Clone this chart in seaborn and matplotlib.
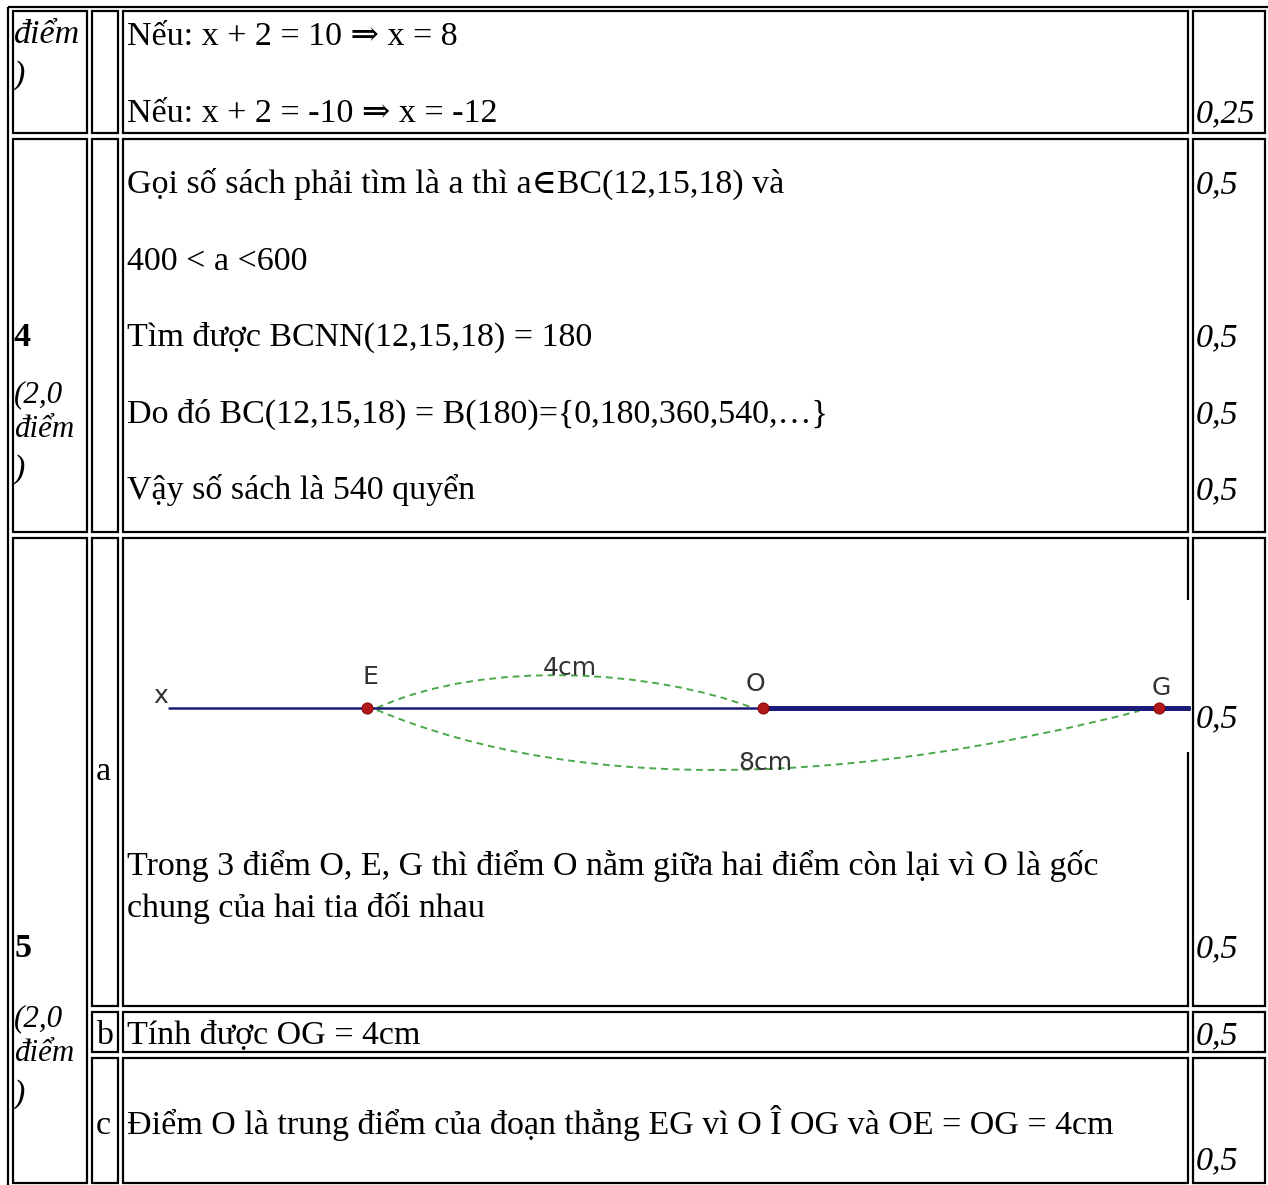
import numpy as np
import pandas as pd
import seaborn as sns
import matplotlib.pyplot as plt
from matplotlib.patches import Rectangle, PathPatch
from matplotlib.path import Path

# ---- content ----
row1_text = ["Nếu: x + 2 = 10 ⇒ x = 8", "Nếu: x + 2 = -10 ⇒ x = -12"]
row1_score = "0,25"
q4_text = [
    "Gọi số sách phải tìm là a thì a∈BC(12,15,18) và",
    "400 < a <600",
    "Tìm được BCNN(12,15,18) = 180",
    "Do đó BC(12,15,18) = B(180)={0,180,360,540,…}",
    "Vậy số sách là 540 quyển",
]
q4_scores = ["0,5", "", "0,5", "0,5", "0,5"]
q5a_text = ["Trong 3 điểm O, E, G thì điểm O nằm giữa hai điểm còn lại vì O là gốc",
            "chung của hai tia đối nhau"]
q5b_text = "Tính được OG = 4cm"
q5c_text = "Điểm O là trung điểm của đoạn thẳng EG vì O Î OG và OE = OG = 4cm"

# diagram data (positions on the line, cm)
point_names = ["E", "O", "G"]
point_pos = [-4, 0, 4]
ray_start = -6.0
ray_end = 4.3
arc_labels = ["4cm", "8cm"]

W, H = 1268, 1185
sns.set_style("white")
plt.rcParams['font.family'] = ['Liberation Serif', 'DejaVu Serif']
plt.rcParams['text.color'] = 'black'

fig = plt.figure(figsize=(W / 100, H / 100), dpi=100)
ax = fig.add_axes([0, 0, 1, 1])
ax.set_xlim(0, W)
ax.set_ylim(H, 0)
ax.axis("off")

FS = 34 * 0.72
FS_SIDE = 31 * 0.72
LW = 1.6


def cell(x0, y0, x1, y1):
    ax.add_patch(Rectangle((x0, y0), x1 - x0, y1 - y0, fill=False,
                           ec="black", lw=LW))


def txt(x, y, s, **kw):
    kw.setdefault("fontsize", FS)
    ax.text(x, y, s, ha="left", va="baseline", color="black", **kw)


# table borders
cell(7.5, 6.5, 1280, 1195)
cols = [(12.5, 86.5), (92, 118), (123, 1188), (1193, 1265)]
for y0, y1 in [(11, 133), (139, 532)]:
    for x0, x1 in cols:
        cell(x0, y0, x1, y1)
cell(12.5, 538, 86.5, 1183)
for y0, y1 in [(538, 1006), (1012, 1052), (1058, 1183)]:
    for x0, x1 in cols[1:]:
        cell(x0, y0, x1, y1)

# row 1 (partial)
txt(14, 43, "điểm", style="italic")
txt(14, 84, ")", style="italic")
txt(127, 45, row1_text[0])
txt(127, 122, row1_text[1])
txt(1196, 122, row1_score, style="italic")

# question 4
q4_y = [193, 270, 346, 423, 499]
for y, s, sc in zip(q4_y, q4_text, q4_scores):
    txt(127, y, s)
    if sc:
        txt(1196, y, sc, style="italic")
txt(14, 346, "4", weight="bold")
txt(14, 402, "(2,0", style="italic", fontsize=FS_SIDE)
txt(14, 437, "điểm", style="italic", fontsize=FS_SIDE)
txt(14, 478, ")", style="italic")

# question 5
txt(14, 957, "5", weight="bold")
txt(14, 1026, "(2,0", style="italic", fontsize=FS_SIDE)
txt(14, 1061, "điểm", style="italic", fontsize=FS_SIDE)
txt(14, 1103, ")", style="italic")
txt(96, 780, "a")
txt(127, 875, q5a_text[0])
txt(127, 917, q5a_text[1])
txt(1196, 727, "0,5", style="italic")
txt(1196, 957, "0,5", style="italic")
txt(96, 1044, "b")
txt(127, 1044, q5b_text)
txt(1196, 1044, "0,5", style="italic")
txt(96, 1134, "c")
txt(127, 1134, q5c_text)
txt(1196, 1169, "0,5", style="italic")

# diagram image area (covers the cell border like the pasted picture)
ax.add_patch(Rectangle((135, 600), 1191 - 135, 752 - 600, fc="white", ec="none",
                       zorder=3))

# diagram in its own axes, cm units
px_per_cm = 99.0
ox, oy = 763, 708
left_cm, right_cm = (135 - ox) / px_per_cm, (1191 - ox) / px_per_cm
dax = fig.add_axes([135 / W, 1 - 790 / H, (1191 - 135) / W, (790 - 600) / H])
dax.set_xlim(left_cm, right_cm)
dax.set_ylim((790 - oy) / px_per_cm * -1, (oy - 600) / px_per_cm)
dax.axis("off")
dax.patch.set_alpha(0)

ray = pd.DataFrame({"x": [ray_start, point_pos[1]], "y": [0, 0]})
seg = pd.DataFrame({"x": [point_pos[1], ray_end], "y": [0, 0]})
sns.lineplot(data=ray, x="x", y="y", ax=dax, color="#1c1c78", lw=1.8)
sns.lineplot(data=seg, x="x", y="y", ax=dax, color="#1c1c78", lw=3.6)

green = "#4aa84a"
e, o, g = point_pos
upper = Path([(e + 0.1, 0), (e + 1.2, 0.5), (o - 1.1, 0.38), (o - 0.1, 0)],
             [Path.MOVETO, Path.CURVE4, Path.CURVE4, Path.CURVE4])
lower = Path([(e + 0.1, -0.02), (e + 2.2, -0.9), (g - 3.0, -0.75), (g - 0.2, -0.03)],
             [Path.MOVETO, Path.CURVE4, Path.CURVE4, Path.CURVE4])
for p in (upper, lower):
    dax.add_patch(PathPatch(p, fc="none", ec=green, lw=1.4, ls=(0, (3.5, 2.5))))

pts = pd.DataFrame({"x": point_pos, "y": [0, 0, 0], "name": point_names})
sns.scatterplot(data=pts, x="x", y="y", ax=dax, color="#b01818", s=65,
                edgecolor="#7a0000", linewidth=0.6, zorder=5, legend=False)

lab_kw = dict(family="DejaVu Sans", fontsize=25 * 0.72, color="#333333",
              ha="center", va="center")
dax.text(ray_start - 0.08, 0.12, "x", **lab_kw)
dax.text(e + 0.03, 0.31, "E", **lab_kw)
dax.text(o - 0.08, 0.24, "O", **lab_kw)
dax.text(g + 0.02, 0.2, "G", **lab_kw)
dax.text(-1.95, 0.4, arc_labels[0], **lab_kw)
dax.text(0.02, -0.56, arc_labels[1], **lab_kw)

fig.savefig("out.png", dpi=100)
